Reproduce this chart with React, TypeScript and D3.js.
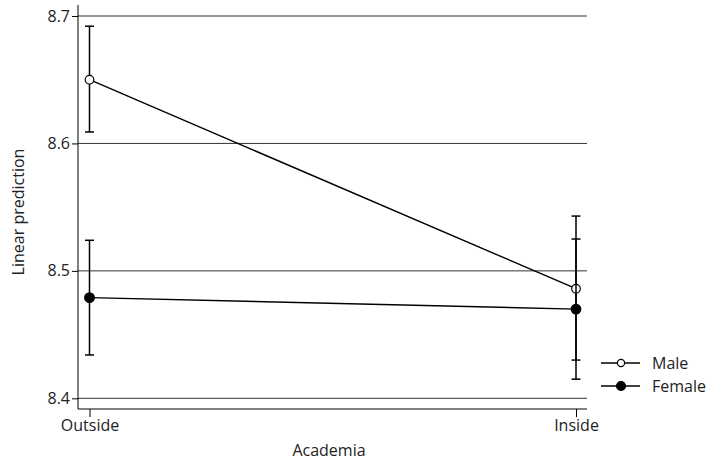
import React, { useEffect, useRef } from "react";
import * as d3 from "d3";

const categories = ["Outside", "Inside"];
const yTicks = [8.4, 8.5, 8.6, 8.7];

const maleFit = [8.650, 8.486];
const maleLo = [8.609, 8.430];
const maleHi = [8.692, 8.543];

const femaleFit = [8.479, 8.470];
const femaleLo = [8.434, 8.415];
const femaleHi = [8.524, 8.525];

const seriesNames = ["Male", "Female"];

const FONT = "'Open Sans', 'Noto Sans', sans-serif";
const FS = 16;

export default function App() {
    const svgRef = useRef<SVGSVGElement>(null);

    useEffect(() => {
        const svg = d3.select(svgRef.current);
        svg.selectAll("*").remove();

        const width = 708;
        const height = 461;
        const plotLeft = 78;
        const plotRight = 587;
        const plotTop = 5;
        const plotBottom = 409;

        svg.attr("width", width).attr("height", height);

        const x = d3.scalePoint<string>()
            .domain(categories)
            .range([89.5, 576]);

        const y = d3.scaleLinear()
            .domain([8.4, 8.7])
            .range([398.3, 16]);

        // gridlines
        svg.append("g")
            .selectAll("line")
            .data(yTicks)
            .enter()
            .append("line")
            .attr("x1", plotLeft)
            .attr("x2", plotRight)
            .attr("y1", (d) => y(d))
            .attr("y2", (d) => y(d))
            .attr("stroke", "#333")
            .attr("stroke-width", 1);

        // y axis
        const yAxis = d3.axisLeft(y)
            .tickValues(yTicks)
            .tickFormat(d3.format(".1f"))
            .tickSize(6)
            .tickPadding(2);
        const gy = svg.append("g")
            .attr("transform", `translate(${plotLeft}, 0)`)
            .call(yAxis);
        gy.select(".domain").remove();
        gy.append("line")
            .attr("x1", 0).attr("x2", 0)
            .attr("y1", plotTop).attr("y2", plotBottom)
            .attr("stroke", "#000");
        gy.selectAll(".tick line").attr("stroke", "#000");
        gy.selectAll("text")
            .attr("font-family", FONT)
            .attr("font-size", FS)
            .attr("fill", "#222");

        // x axis
        const xAxis = d3.axisBottom(x).tickSize(8).tickPadding(3);
        const gx = svg.append("g")
            .attr("transform", `translate(0, ${plotBottom})`)
            .call(xAxis);
        gx.select(".domain").remove();
        gx.append("line")
            .attr("x1", plotLeft).attr("x2", plotRight)
            .attr("y1", 0).attr("y2", 0)
            .attr("stroke", "#000");
        gx.selectAll(".tick line").attr("stroke", "#000");
        gx.selectAll("text")
            .attr("font-family", FONT)
            .attr("font-size", FS)
            .attr("fill", "#222");

        // axis titles
        svg.append("text")
            .attr("transform", `translate(24, 212) rotate(-90)`)
            .attr("text-anchor", "middle")
            .attr("font-family", FONT)
            .attr("font-size", FS)
            .attr("fill", "#222")
            .text("Linear prediction");

        svg.append("text")
            .attr("x", 329)
            .attr("y", 456)
            .attr("text-anchor", "middle")
            .attr("font-family", FONT)
            .attr("font-size", FS)
            .attr("fill", "#222")
            .text("Academia");

        const series = [
            { name: seriesNames[0], fit: maleFit, lo: maleLo, hi: maleHi, fill: "#fff", r: 4.3 },
            { name: seriesNames[1], fit: femaleFit, lo: femaleLo, hi: femaleHi, fill: "#000", r: 4.8 },
        ];

        const line = d3.line<number>()
            .x((_, i) => x(categories[i]) as number)
            .y((d) => y(d));

        series.forEach((s) => {
            const g = svg.append("g");
            // error bars
            categories.forEach((c, i) => {
                const cx = x(c) as number;
                g.append("line")
                    .attr("x1", cx).attr("x2", cx)
                    .attr("y1", y(s.lo[i])).attr("y2", y(s.hi[i]))
                    .attr("stroke", "#000").attr("stroke-width", 1.5);
                [s.lo[i], s.hi[i]].forEach((v) => {
                    g.append("line")
                        .attr("x1", cx - 4.5).attr("x2", cx + 4.5)
                        .attr("y1", y(v)).attr("y2", y(v))
                        .attr("stroke", "#000").attr("stroke-width", 1.5);
                });
            });
            g.append("path")
                .datum(s.fit)
                .attr("d", line)
                .attr("fill", "none")
                .attr("stroke", "#000")
                .attr("stroke-width", 1.4);
            g.selectAll("circle")
                .data(s.fit)
                .enter()
                .append("circle")
                .attr("cx", (_, i) => x(categories[i]) as number)
                .attr("cy", (d) => y(d))
                .attr("r", s.r)
                .attr("fill", s.fill)
                .attr("stroke", "#000")
                .attr("stroke-width", 1.2);
        });

        // legend
        const legend = svg.append("g");
        series.forEach((s, i) => {
            const ly = 363 + i * 23;
            legend.append("line")
                .attr("x1", 601).attr("x2", 640)
                .attr("y1", ly).attr("y2", ly)
                .attr("stroke", "#000").attr("stroke-width", 1.4);
            legend.append("circle")
                .attr("cx", 621).attr("cy", ly)
                .attr("r", s.fill === "#000" ? 4.5 : 3.6)
                .attr("fill", s.fill)
                .attr("stroke", "#000")
                .attr("stroke-width", 1.2);
            legend.append("text")
                .attr("x", 652)
                .attr("y", ly)
                .attr("dy", "0.35em")
                .attr("font-family", FONT)
                .attr("font-size", FS)
                .attr("fill", "#222")
                .text(s.name);
        });
    }, []);

    return (
        <div style={{ position: "absolute", left: 0, top: 0 }}>
            <svg ref={svgRef}></svg>
        </div>
    );
}
